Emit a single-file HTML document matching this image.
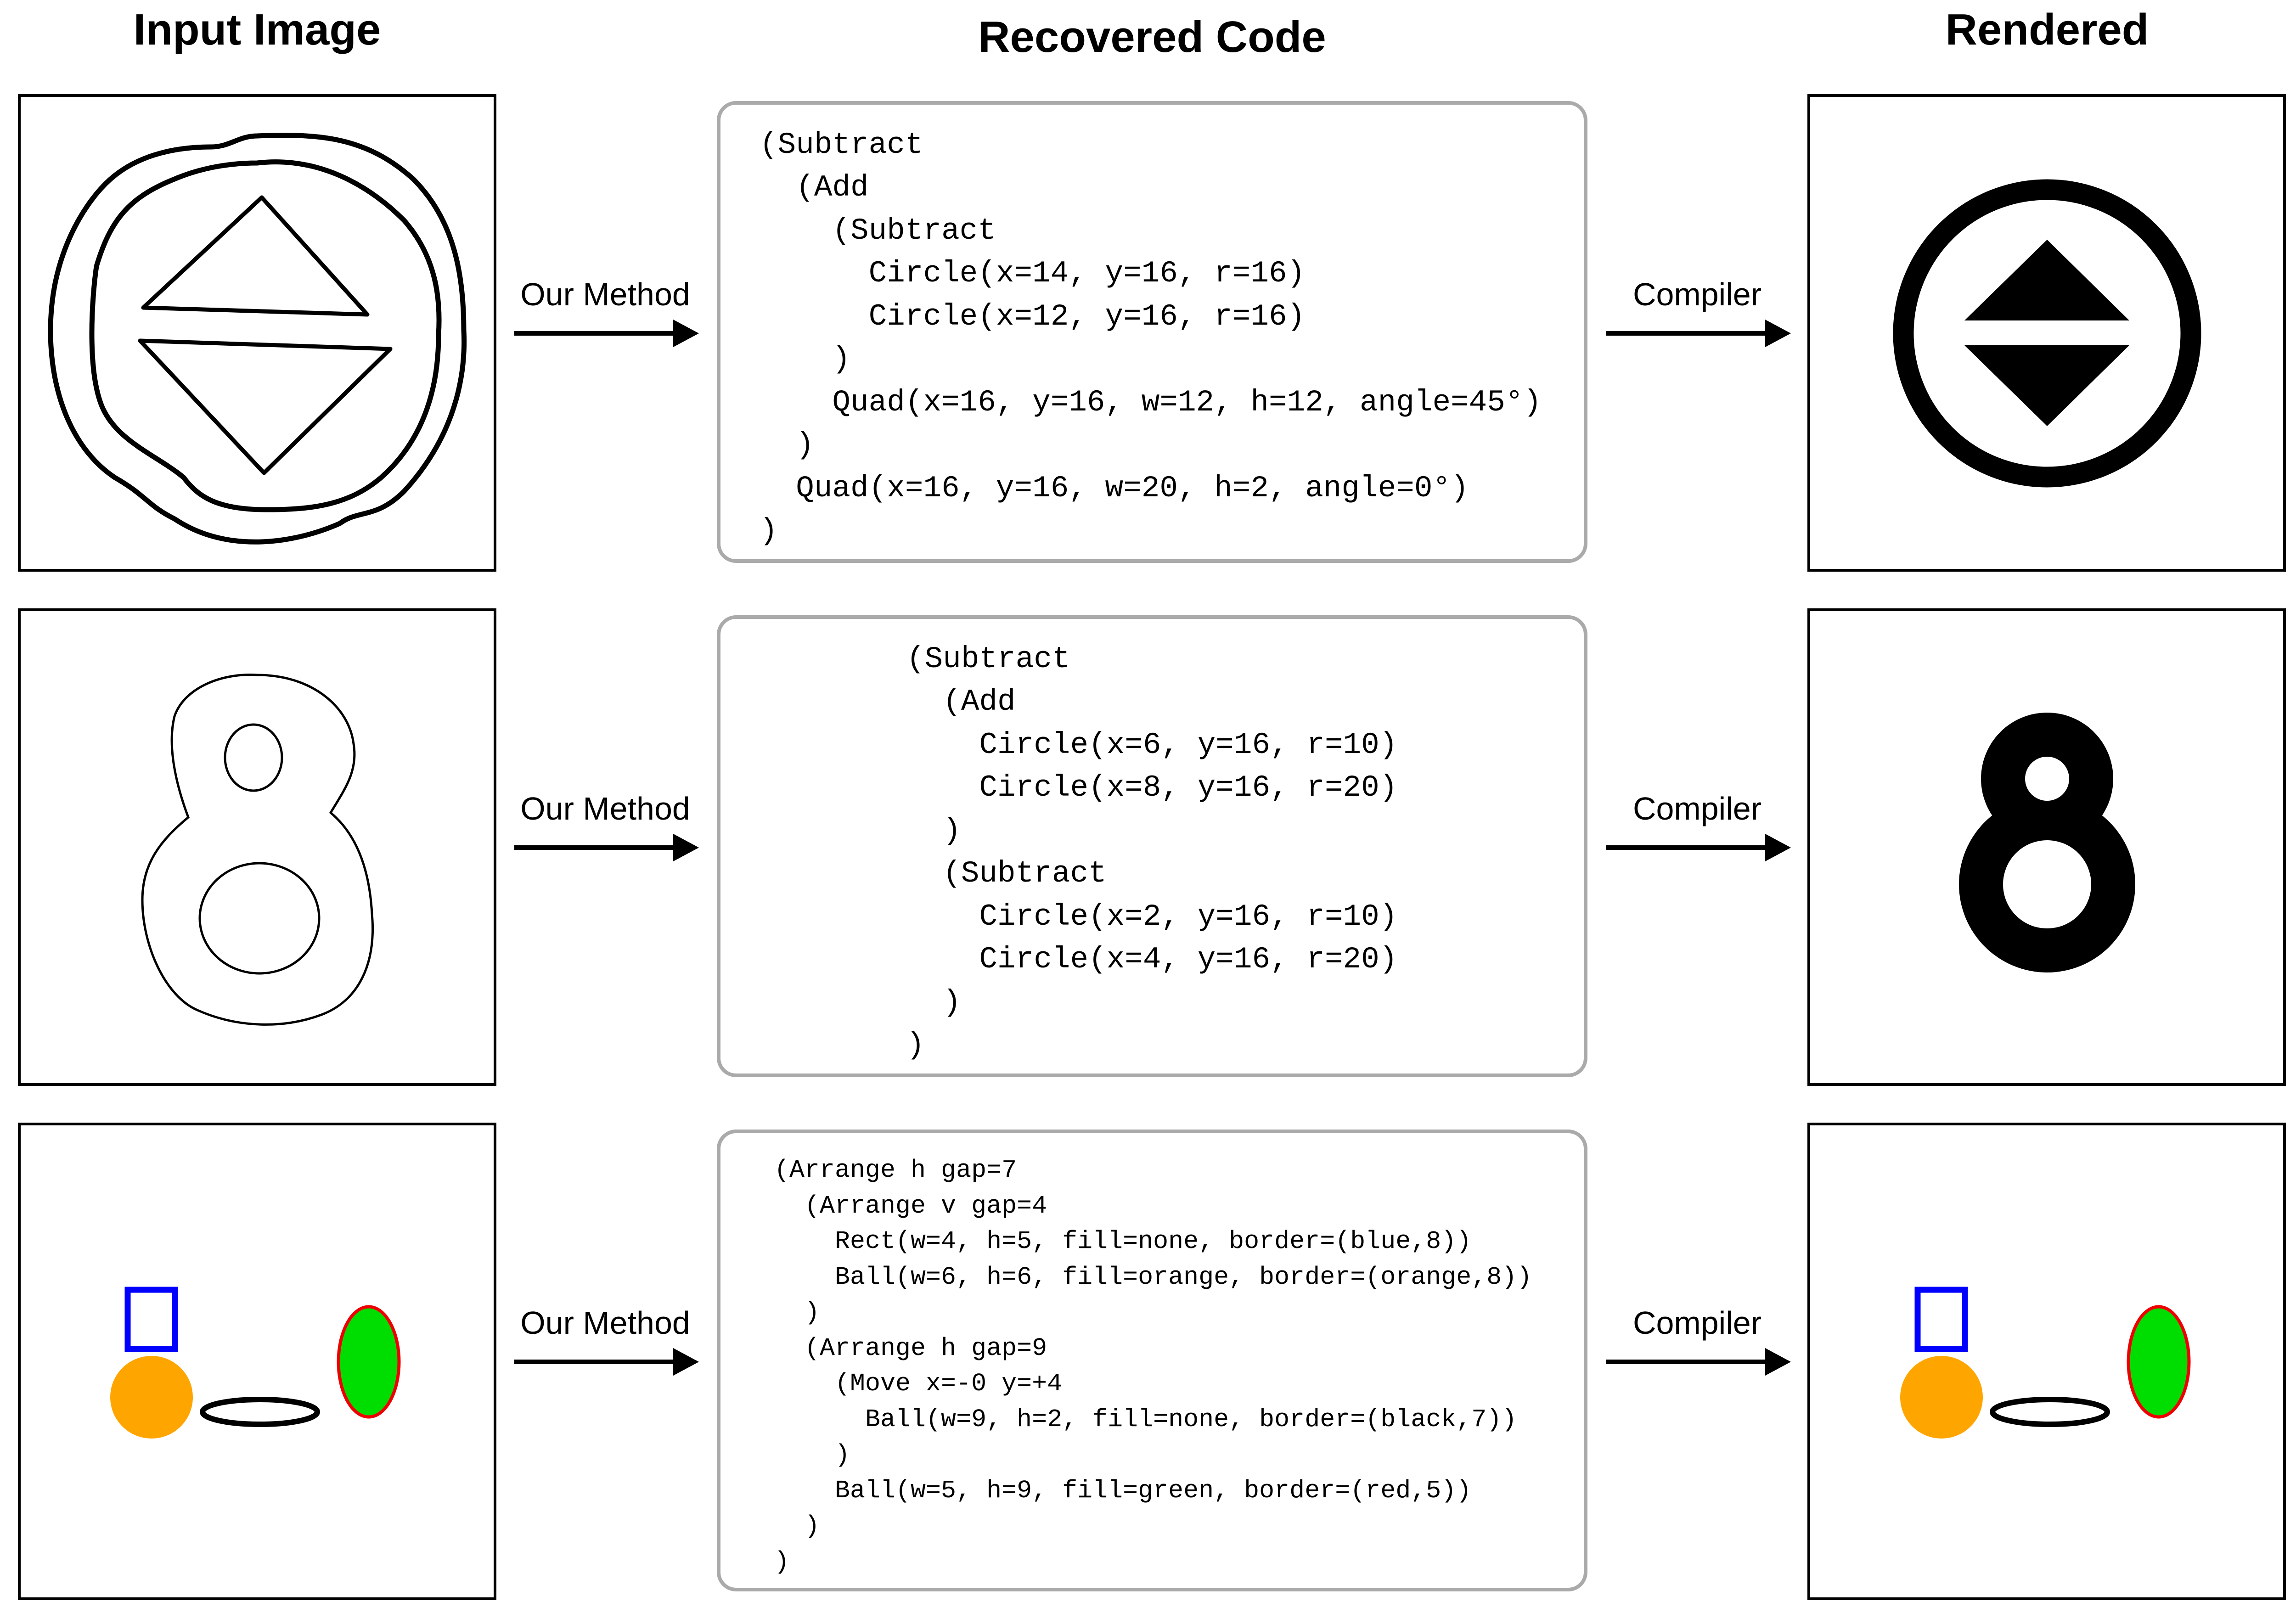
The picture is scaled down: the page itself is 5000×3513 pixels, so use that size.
<!DOCTYPE html>
<html><head><meta charset="utf-8"><style>
html,body{margin:0;padding:0;background:#fff;}
svg{display:block;}
.t{font-family:"Liberation Sans",sans-serif;font-weight:bold;font-size:96px;text-anchor:middle;fill:#000;}
.l{font-family:"Liberation Sans",sans-serif;font-size:70px;text-anchor:middle;fill:#000;}
.c{font-family:"Liberation Mono",monospace;font-size:66px;fill:#000;white-space:pre;}
.c3{font-family:"Liberation Mono",monospace;font-size:55px;fill:#000;white-space:pre;}
</style></head><body>
<svg width="5000" height="3513" viewBox="0 0 5000 3513" xmlns="http://www.w3.org/2000/svg">
<rect width="5000" height="3513" fill="#fff"/>
<text class="t" x="560" y="97">Input Image</text>
<text class="t" x="2509" y="113">Recovered Code</text>
<text class="t" x="4458" y="97">Rendered</text>

<!-- boxes -->
<g fill="none" stroke="#000" stroke-width="6">
<rect x="42" y="208" width="1036" height="1034"/>
<rect x="42" y="1328" width="1036" height="1034"/>
<rect x="42" y="2448" width="1036" height="1034"/>
<rect x="3939" y="208" width="1036" height="1034"/>
<rect x="3939" y="1328" width="1036" height="1034"/>
<rect x="3939" y="2448" width="1036" height="1034"/>
</g>
<g fill="#fff" stroke="#aaa" stroke-width="8">
<rect x="1565" y="224" width="1888" height="998" rx="38"/>
<rect x="1565" y="1344" width="1888" height="998" rx="38"/>
<rect x="1565" y="2464" width="1888" height="998" rx="38"/>
</g>

<!-- arrows -->
<g stroke="#000" stroke-width="10">
<line x1="1120" y1="726" x2="1470" y2="726"/>
<line x1="1120" y1="1846" x2="1470" y2="1846"/>
<line x1="1120" y1="2966" x2="1470" y2="2966"/>
<line x1="3498" y1="726" x2="3848" y2="726"/>
<line x1="3498" y1="1846" x2="3848" y2="1846"/>
<line x1="3498" y1="2966" x2="3848" y2="2966"/>
</g>
<g fill="#000">
<path d="M1466,696 L1522,726 L1466,756Z"/>
<path d="M1466,1816 L1522,1846 L1466,1876Z"/>
<path d="M1466,2936 L1522,2966 L1466,2996Z"/>
<path d="M3844,696 L3900,726 L3844,756Z"/>
<path d="M3844,1816 L3900,1846 L3844,1876Z"/>
<path d="M3844,2936 L3900,2966 L3844,2996Z"/>
</g>
<text class="l" x="1318" y="665">Our Method</text>
<text class="l" x="1318" y="1785">Our Method</text>
<text class="l" x="1318" y="2905">Our Method</text>
<text class="l" x="3696" y="665">Compiler</text>
<text class="l" x="3696" y="1785">Compiler</text>
<text class="l" x="3696" y="2905">Compiler</text>

<!-- code row 1 -->
<text class="c" x="1654" y="333">(Subtract</text>
<text class="c" x="1654" y="426">  (Add</text>
<text class="c" x="1654" y="520">    (Subtract</text>
<text class="c" x="1654" y="613">      Circle(x=14, y=16, r=16)</text>
<text class="c" x="1654" y="707">      Circle(x=12, y=16, r=16)</text>
<text class="c" x="1654" y="800">    )</text>
<text class="c" x="1654" y="894">    Quad(x=16, y=16, w=12, h=12, angle=45°)</text>
<text class="c" x="1654" y="987">  )</text>
<text class="c" x="1654" y="1081">  Quad(x=16, y=16, w=20, h=2, angle=0°)</text>
<text class="c" x="1654" y="1174">)</text>
<!-- code row 2 -->
<text class="c" x="1974" y="1453">(Subtract</text>
<text class="c" x="1974" y="1546">  (Add</text>
<text class="c" x="1974" y="1640">    Circle(x=6, y=16, r=10)</text>
<text class="c" x="1974" y="1733">    Circle(x=8, y=16, r=20)</text>
<text class="c" x="1974" y="1827">  )</text>
<text class="c" x="1974" y="1920">  (Subtract</text>
<text class="c" x="1974" y="2014">    Circle(x=2, y=16, r=10)</text>
<text class="c" x="1974" y="2107">    Circle(x=4, y=16, r=20)</text>
<text class="c" x="1974" y="2201">  )</text>
<text class="c" x="1974" y="2294">)</text>
<!-- code row 3 -->
<text class="c3" x="1686" y="2563">(Arrange h gap=7</text>
<text class="c3" x="1686" y="2641">  (Arrange v gap=4</text>
<text class="c3" x="1686" y="2718">    Rect(w=4, h=5, fill=none, border=(blue,8))</text>
<text class="c3" x="1686" y="2796">    Ball(w=6, h=6, fill=orange, border=(orange,8))</text>
<text class="c3" x="1686" y="2873">  )</text>
<text class="c3" x="1686" y="2951">  (Arrange h gap=9</text>
<text class="c3" x="1686" y="3028">    (Move x=-0 y=+4</text>
<text class="c3" x="1686" y="3106">      Ball(w=9, h=2, fill=none, border=(black,7))</text>
<text class="c3" x="1686" y="3183">    )</text>
<text class="c3" x="1686" y="3261">    Ball(w=5, h=9, fill=green, border=(red,5))</text>
<text class="c3" x="1686" y="3338">  )</text>
<text class="c3" x="1686" y="3416">)</text>

<!-- row1 input sketch -->
<g fill="none" stroke="#000" stroke-width="11" stroke-linejoin="round">
<path d="M560,296 C700,290 800,300 900,390 C990,480 1010,600 1010,720 C1015,820 990,950 880,1070 C820,1130 780,1110 740,1140 C650,1180 500,1210 380,1130 C320,1100 320,1080 250,1040 C160,980 110,860 110,720 C110,560 180,450 230,400 C300,330 400,320 460,320 C500,320 520,296 560,296 Z"/>
<path d="M560,355 C690,340 800,400 880,480 C950,560 960,650 955,730 C955,850 920,960 830,1040 C760,1100 680,1110 580,1110 C470,1110 430,1080 400,1040 C340,990 250,960 220,880 C190,800 200,650 210,580 C240,480 280,430 380,390 C450,360 520,355 560,355 Z"/>
<path d="M312,670 L570,430 L800,685 Z" stroke-width="9"/>
<path d="M305,742 L850,760 L575,1030 Z" stroke-width="9"/>
</g>

<!-- row1 rendered -->
<circle cx="4458" cy="726" r="313" fill="none" stroke="#000" stroke-width="45"/>
<path d="M4278,698 L4458,522 L4637,698 Z" fill="#000"/>
<path d="M4278,752 L4637,752 L4458,928 Z" fill="#000"/>

<!-- row2 input 8 -->
<g fill="none" stroke="#000" stroke-width="5">
<path d="M560,1470 C480,1465 400,1500 380,1560 C365,1620 380,1700 410,1780 C350,1830 310,1880 310,1960 C310,2060 360,2170 430,2200 C520,2240 620,2240 700,2210 C780,2180 820,2100 810,1990 C805,1900 780,1820 720,1770 C750,1720 780,1680 770,1620 C760,1540 680,1470 560,1470 Z"/>
<ellipse cx="552" cy="1650" rx="62" ry="72"/>
<ellipse cx="565" cy="2000" rx="130" ry="120"/>
</g>

<!-- row2 rendered 8 -->
<circle cx="4458" cy="1926" r="192" fill="#000"/>
<circle cx="4458" cy="1696" r="144" fill="#000"/>
<circle cx="4458" cy="1696" r="48" fill="#fff"/>
<circle cx="4458" cy="1926" r="96" fill="#fff"/>

<!-- row3 input -->
<g>
<rect x="278" y="2809" width="103" height="129" fill="none" stroke="#00f" stroke-width="13"/>
<circle cx="330" cy="3043" r="90" fill="#ffa500"/>
<ellipse cx="566" cy="3075" rx="125" ry="27" fill="none" stroke="#000" stroke-width="12"/>
<ellipse cx="803" cy="2966" rx="66" ry="120" fill="#00dd00" stroke="#ee0000" stroke-width="7"/>
</g>
<g transform="translate(3898,0)">
<rect x="278" y="2809" width="103" height="129" fill="none" stroke="#00f" stroke-width="13"/>
<circle cx="330" cy="3043" r="90" fill="#ffa500"/>
<ellipse cx="566" cy="3075" rx="125" ry="27" fill="none" stroke="#000" stroke-width="12"/>
<ellipse cx="803" cy="2966" rx="66" ry="120" fill="#00dd00" stroke="#ee0000" stroke-width="7"/>
</g>
</svg>
</body></html>
